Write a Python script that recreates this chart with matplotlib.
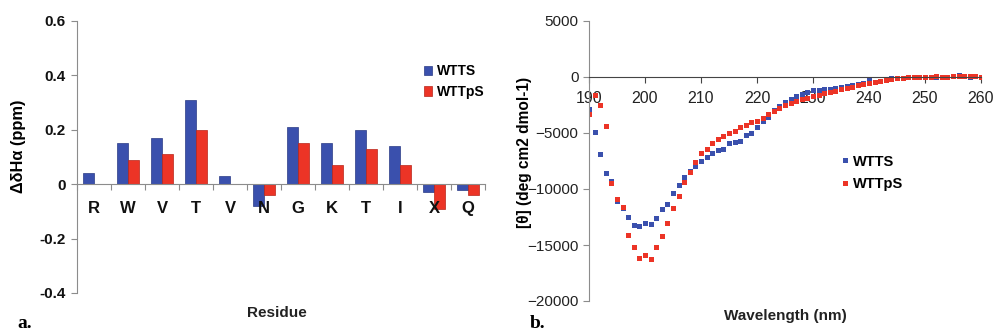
import matplotlib

matplotlib.use("Agg")
import matplotlib.pyplot as plt
import numpy as np

plt.rcParams["font.family"] = ["Liberation Sans", "DejaVu Sans"]

BLUE = "#3a50ad"
RED = "#ec3426"
AXIS = "#8c8c8c"

# panel a: chemical shift differences
residues = ["R", "W", "V", "T", "V", "N", "G", "K", "T", "I", "X", "Q"]
wtts_shift = [0.04, 0.15, 0.17, 0.31, 0.03, -0.08, 0.21, 0.15, 0.20, 0.14, -0.03, -0.02]
wttps_shift = [0.0, 0.09, 0.11, 0.20, 0.0, -0.04, 0.15, 0.07, 0.13, 0.07, -0.09, -0.04]

# panel b: CD spectra
wavelength = list(range(190, 261))
wtts_cd = [
    -2900, -4950, -6900, -8540, -9250, -11070, -11700, -12480, -13190, -13310,
    -13050, -13160, -12570, -11760, -11310, -10390, -9670, -8900, -8360, -7910,
    -7460, -7130, -6810, -6480, -6420, -5910, -5760, -5670, -5160, -4990,
    -4480, -3940, -3580, -2990, -2630, -2240, -1940, -1730, -1550, -1340,
    -1190, -1130, -1080, -1050, -960, -900, -840, -750, -660, -540,
    -240, -420, -330, -210, -120, -100, -60, -20, 20, 0,
    10, 30, 20, 10, 40, 80, 200, 60, 40, 80, -20,
]
wttps_cd = [
    -3280, -1600, -2500, -4350, -9450, -10870, -11640, -14150, -15220, -16150,
    -15850, -16270, -15160, -14210, -13050, -11700, -10630, -9340, -8480, -7550,
    -6750, -6420, -5880, -5550, -5280, -5020, -4780, -4480, -4270, -4060,
    -3970, -3640, -3280, -3050, -2750, -2540, -2330, -2150, -2000, -1850,
    -1700, -1580, -1460, -1340, -1220, -1100, -990, -870, -750, -630,
    -540, -450, -360, -270, -180, -120, -90, -30, 30, 0,
    0, 30, 60, 30, 30, 60, 90, 60, 60, 90, 0,
]

fig = plt.figure(figsize=(9.94, 3.34), dpi=100)

# ---- panel a ----
ax1 = fig.add_axes([77 / 994, 41 / 334, 408 / 994, 272 / 334])
x = np.arange(len(residues))
w = 0.31
ax1.bar(x - w / 2, wtts_shift, w, color=BLUE, edgecolor="#2a3a85", linewidth=0.5, label="WTTS")
ax1.bar(x + w / 2, wttps_shift, w, color=RED, edgecolor="#b82418", linewidth=0.5, label="WTTpS")
ax1.set_xlim(-0.5, len(residues) - 0.5)
ax1.set_ylim(-0.4, 0.6)
ax1.set_yticks([-0.4, -0.2, 0, 0.2, 0.4, 0.6])
ax1.set_yticklabels(["-0.4", "-0.2", "0", "0.2", "0.4", "0.6"], fontweight="bold", fontsize=11)
ax1.spines["top"].set_visible(False)
ax1.spines["right"].set_visible(False)
ax1.spines["left"].set_color(AXIS)
ax1.spines["bottom"].set_position(("data", 0))
ax1.spines["bottom"].set_color(AXIS)
ax1.tick_params(axis="y", colors=AXIS, labelcolor="#111111", length=4, pad=4)
ax1.set_xticks(np.arange(len(residues) + 1) - 0.5)
ax1.set_xticklabels([])
ax1.tick_params(axis="x", colors=AXIS, length=4)
for i, r in enumerate(residues):
    ax1.text(i, -0.09, r, ha="center", va="center", fontsize=12, fontweight="bold", color="#111111")
ax1.set_ylabel("ΔδHα (ppm)", fontsize=11.8, fontweight="bold")
ax1.yaxis.set_label_coords(-0.125, 0.54)
ax1.text(0.49, -0.075, "Residue", transform=ax1.transAxes, ha="center", va="center",
         fontsize=11, fontweight="bold", color="#222222")
ax1.legend(loc="upper left", bbox_to_anchor=(0.82, 0.887), frameon=False, handlelength=0.6,
           handleheight=0.7, handletextpad=0.3, labelspacing=0.5,
           prop={"weight": "bold", "size": 10})

# ---- panel b ----
ax2 = fig.add_axes([589 / 994, 33 / 334, 392 / 994, 280 / 334])
ax2.plot(wavelength, wtts_cd, "s", color=BLUE, markersize=3.6, markeredgewidth=0, label="WTTS")
ax2.plot(wavelength, wttps_cd, "s", color=RED, markersize=3.6, markeredgewidth=0, label="WTTpS")
ax2.set_xlim(190, 260)
ax2.set_ylim(-20000, 5000)
ax2.set_yticks([-20000, -15000, -10000, -5000, 0, 5000])
ax2.set_xticks([190, 200, 210, 220, 230, 240, 250, 260])
ax2.spines["top"].set_visible(False)
ax2.spines["right"].set_visible(False)
ax2.spines["left"].set_color(AXIS)
ax2.spines["bottom"].set_position(("data", 0))
ax2.spines["bottom"].set_color("#444444")
ax2.tick_params(axis="y", colors=AXIS, labelcolor="#222222", labelsize=11, length=4)
ax2.tick_params(axis="x", colors="#444444", labelcolor="#222222", labelsize=11.5, length=4, pad=6)
ax2.set_ylabel("[θ] (deg cm2 dmol-1)", fontsize=11.2, fontweight="bold")
ax2.yaxis.set_label_coords(-0.145, 0.53)
ax2.text(0.5, -0.055, "Wavelength (nm)", transform=ax2.transAxes, ha="center", va="center",
         fontsize=11, fontweight="bold", color="#222222")
ax2.legend(loc="upper left", bbox_to_anchor=(0.61, 0.57), frameon=False, handlelength=0.5,
           handletextpad=0.3, labelspacing=0.6, markerscale=1.0,
           prop={"weight": "bold", "size": 10.5})

fig.text(17 / 994, 1 - 324 / 334, "a.", fontsize=14, fontweight="bold", family="Liberation Serif",
         va="center")
fig.text(530 / 994, 1 - 324 / 334, "b.", fontsize=14, fontweight="bold", family="Liberation Serif",
         va="center")

fig.savefig("out.png", dpi=100)
